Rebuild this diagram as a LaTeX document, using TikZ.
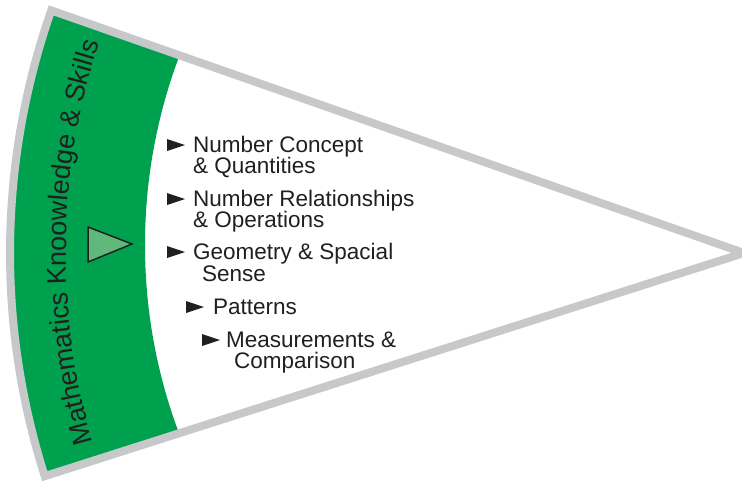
\documentclass[tikz,border=0pt]{standalone}
\usepackage{fontspec}
\setmainfont{Liberation Sans}
\usetikzlibrary{decorations.text}
\definecolor{bandgreen}{RGB}{0,161,78}
\definecolor{rimgray}{RGB}{199,200,202}
\definecolor{markgreen}{RGB}{96,184,124}
\definecolor{inkc}{RGB}{35,31,32}
\newcommand\titlefnt{\fontsize{27}{32}\selectfont}
\begin{document}
\begin{tikzpicture}[x=1pt,y=-1pt,
  item/.style={anchor=base west, inner sep=0pt, text=inkc, font=\fontsize{22.5}{27}\selectfont},
  bulletmark/.style={fill=inkc},
  rim/.style={draw=rimgray, line width=8pt, line join=miter}]
\useasboundingbox (0,0) rectangle (742,482);
\fill[white] (0,0) rectangle (742,482);
\coordinate (C) at (744,253);
\begin{scope}
  \clip (C) -- ++(199.3:734) arc[start angle=199.3, end angle=162.3, radius=734] -- cycle;
  \fill[bandgreen, even odd rule] (0,0) rectangle (760,482) (680,245) circle[radius=535];
\end{scope}
\path[rim] (C) -- ++(199.3:734) arc[start angle=199.3, end angle=162.3, radius=734] -- cycle;
% marker triangle
\path[fill=markgreen, draw=inkc, line width=1.5pt, line join=miter] (88,227) -- (132,244) -- (88,262) -- cycle;
% curved title along the band
\path[decorate, decoration={text along path, text align=center, text color=inkc,
   text={|\titlefnt|Mathematics Knoowledge {\&} Skills}}]
   (C) ++(150.9:678) arc[start angle=150.9, end angle=210.9, radius=678];
% items
\node[item] (i1a) at (193,152) {Number Concept};
\node[item] (i1b) at (193,173) {\& Quantities};
\node[item] (i2a) at (193,206) {Number Relationships};
\node[item] (i2b) at (193,227) {\& Operations};
\node[item] (i3a) at (193,259) {Geometry \& Spacial};
\node[item] (i3b) at (202,281) {Sense};
\node[item] (i4) at (213,314) {Patterns};
\node[item] (i5a) at (226,347) {Measurements \&};
\node[item] (i5b) at (234,368) {Comparison};
% bullets
\path[bulletmark] (167,139) -- (185,145) -- (167,151) -- cycle;
\path[bulletmark] (167,193) -- (185,199) -- (167,205) -- cycle;
\path[bulletmark] (167,246) -- (185,252) -- (167,258) -- cycle;
\path[bulletmark] (186,301) -- (204,307) -- (186,313) -- cycle;
\path[bulletmark] (202,334) -- (220,340) -- (202,346) -- cycle;
\end{tikzpicture}
\end{document}
